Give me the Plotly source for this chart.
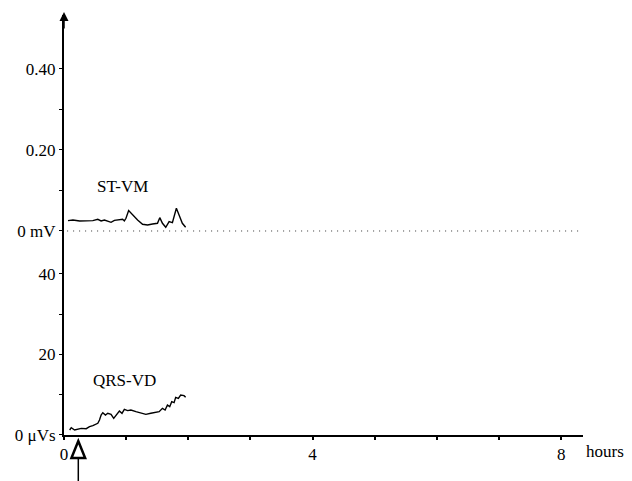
import plotly.graph_objects as go

# ST-VM (mV) vs hours
st_hours = [0.064, 0.144, 0.251, 0.357, 0.464, 0.544, 0.597, 0.651, 0.704, 0.757, 0.811, 0.891,
            0.944, 0.971, 0.997, 1.04, 1.104, 1.184, 1.264, 1.344, 1.424, 1.504, 1.541, 1.584,
            1.637, 1.691, 1.744, 1.808, 1.851, 1.904, 1.957]
st_mv = [0.0255, 0.027, 0.0247, 0.0255, 0.0255, 0.0288, 0.0247, 0.027, 0.0247, 0.0214, 0.0263, 0.027,
         0.0288, 0.0247, 0.0313, 0.0502, 0.0395, 0.027, 0.0165, 0.0148, 0.0173, 0.019, 0.0329, 0.019,
         0.0091, 0.023, 0.0206, 0.056, 0.0395, 0.019, 0.0091]

# QRS-VD (uVs) vs hours
qrs_hours = [0.091, 0.117, 0.171, 0.224, 0.277, 0.357, 0.411, 0.464, 0.517, 0.544, 0.571, 0.597,
             0.624, 0.667, 0.704, 0.757, 0.8, 0.837, 0.891, 0.933, 0.971, 1.024, 1.077, 1.157,
             1.237, 1.317, 1.397, 1.477, 1.531, 1.584, 1.627, 1.664, 1.701, 1.733, 1.771, 1.797,
             1.84, 1.877, 1.931, 1.957]
qrs_uvs = [1.24, 1.82, 1.24, 1.41, 1.65, 1.57, 2.07, 2.32, 2.73, 2.9, 3.72, 4.96,
           5.54, 4.96, 5.38, 5.13, 4.14, 4.96, 5.95, 5.38, 6.37, 6.04, 6.2, 5.79,
           5.38, 5.13, 5.38, 5.62, 5.79, 6.62, 6.2, 7.44, 7.03, 8.27, 8.02, 9.34,
           9.1, 9.92, 9.76, 9.34]

baseline_hours = [0.05, 8.35]
baseline_mv = [0, 0]

x_tickvals = [0, 1, 2, 3, 4, 5, 6, 7, 8]
x_ticktext = ["0", "", "", "", "4", "", "", "", "8"]
st_tickvals = [0, 0.1, 0.2, 0.3, 0.4]
st_ticktext = ["0 mV", "", "0.20", "", "0.40"]
qrs_tickvals = [0, 10, 20, 30, 40]
qrs_ticktext = ["0 \u03bcVs", "", "20", "", "40"]
event_hours = [0.23]

FONT = "Liberation Serif"

fig = go.Figure()
fig.add_trace(go.Scatter(x=baseline_hours, y=baseline_mv, xaxis="x", yaxis="y2", mode="lines",
                         line=dict(color="#333", width=1, dash="1px,5px"), hoverinfo="skip"))
fig.add_trace(go.Scatter(x=st_hours, y=st_mv, xaxis="x", yaxis="y2", mode="lines",
                         line=dict(color="black", width=1.4)))
fig.add_trace(go.Scatter(x=qrs_hours, y=qrs_uvs, xaxis="x", yaxis="y", mode="lines",
                         line=dict(color="black", width=1.4)))

axis_common = dict(showgrid=False, zeroline=False, showline=True, linecolor="black",
                   ticks="outside", tickcolor="black", tickfont=dict(family=FONT, size=17, color="black"))

fig.update_layout(
    width=624, height=473,
    margin=dict(l=53, r=49, t=7, b=46),
    paper_bgcolor="white", plot_bgcolor="white",
    showlegend=False,
    xaxis=dict(range=[0, 8.35], anchor="y", tickvals=x_tickvals, ticktext=x_ticktext,
               linewidth=2, ticklen=3, tickwidth=1.5, **axis_common),
    yaxis=dict(range=[0, 50.6], domain=[0, 0.4857], anchor="x", tickvals=qrs_tickvals,
               ticktext=qrs_ticktext, linewidth=2, ticklen=3, tickwidth=1, **axis_common),
    yaxis2=dict(range=[-0.03, 0.533], domain=[0.4568, 1], anchor="x", tickvals=st_tickvals,
                ticktext=st_ticktext, linewidth=2, ticklen=3, tickwidth=1, **axis_common),
)

fig.add_annotation(x=0.944, y=0.111, xref="x", yref="y2", text="ST-VM", showarrow=False,
                   font=dict(family=FONT, size=17, color="black"))
fig.add_annotation(x=0.976, y=13.6, xref="x", yref="y", text="QRS-VD", showarrow=False,
                   font=dict(family=FONT, size=17, color="black"))
fig.add_annotation(x=1.042, y=-0.040, xref="paper", yref="paper", text="hours", showarrow=False,
                   xanchor="center", yanchor="middle",
                   font=dict(family=FONT, size=17, color="black"))
# arrow at top of the y axis
fig.add_annotation(x=0, y=1.007, xref="x", yref="paper", ax=0, ay=18, axref="pixel", ayref="pixel",
                   text="", showarrow=True, arrowhead=2, arrowsize=1.2, arrowwidth=1.5, arrowcolor="black")

# event marker (open triangle with a line below)
for ev in event_hours:
    fig.add_shape(type="path", xref="x", yref="paper",
                  path=f"M {ev - 0.11} -0.0548 L {ev} -0.0143 L {ev + 0.11} -0.0548 Z",
                  line=dict(color="black", width=2.5), fillcolor="rgba(0,0,0,0)")
    fig.add_shape(type="line", xref="x", yref="paper", x0=ev, x1=ev, y0=-0.0548, y1=-0.11,
                  line=dict(color="black", width=1.5))

fig.write_html("out.html")
